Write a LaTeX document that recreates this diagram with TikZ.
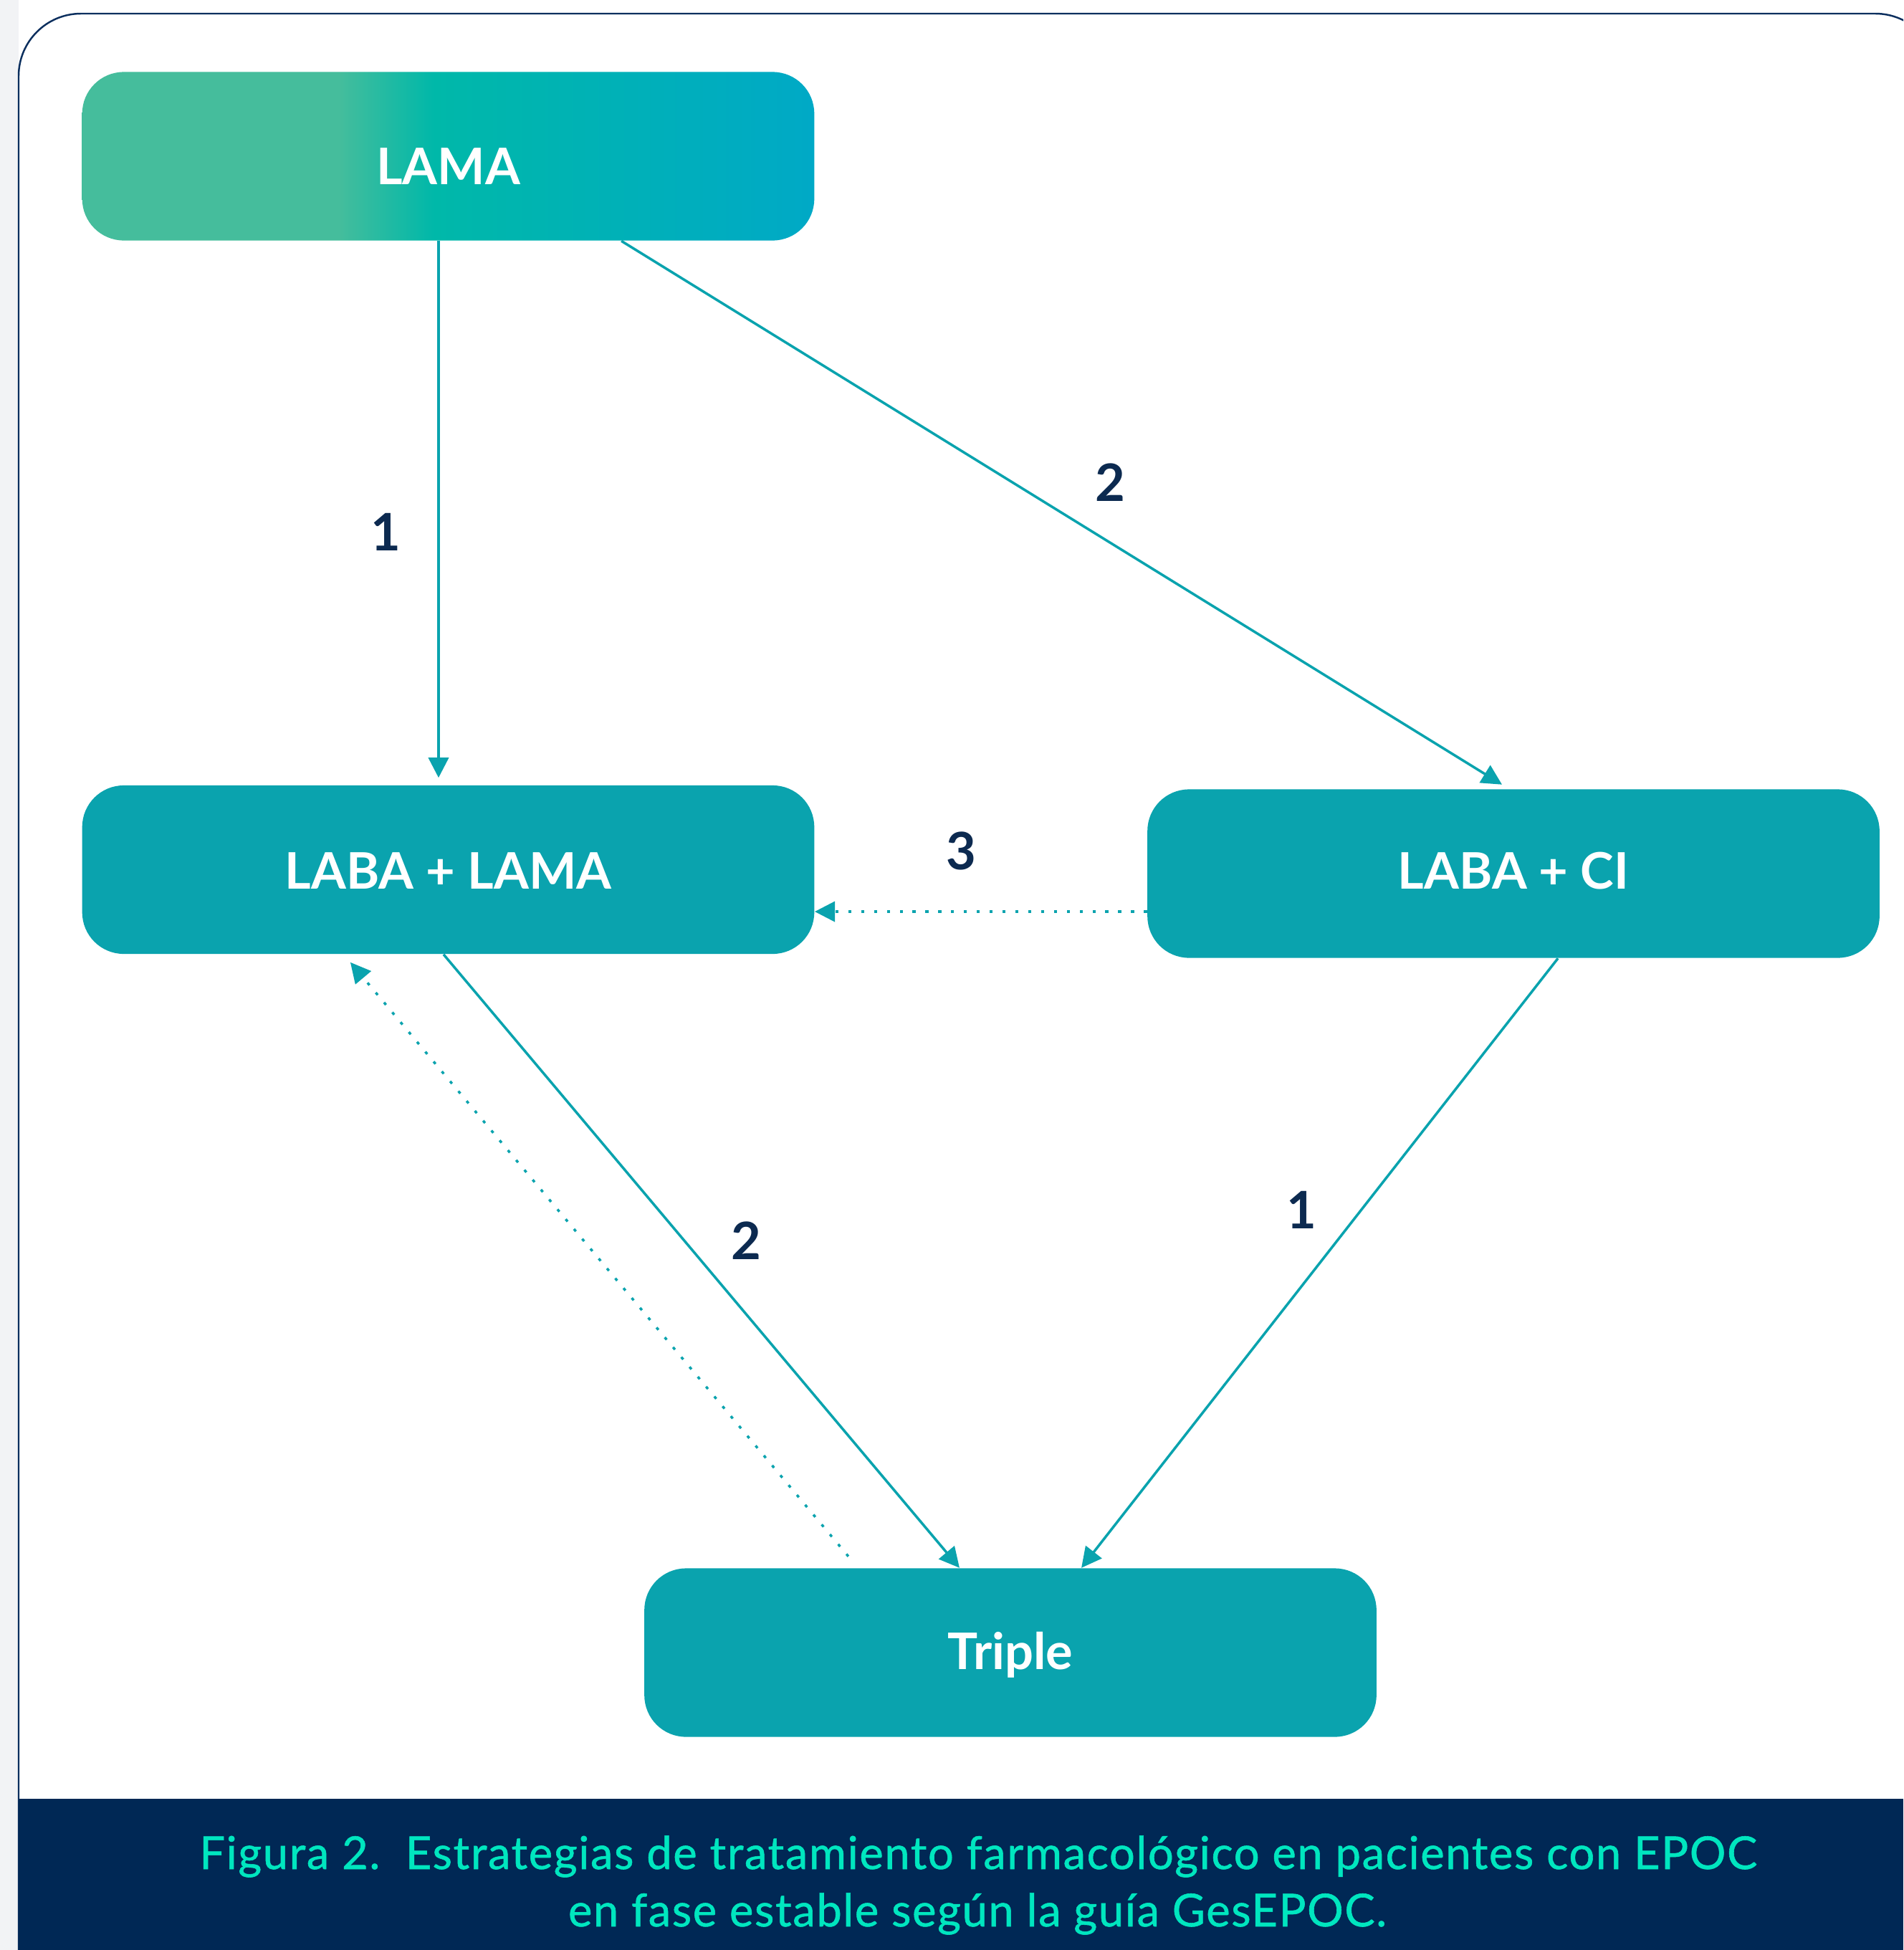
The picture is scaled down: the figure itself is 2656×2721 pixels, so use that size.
\documentclass[tikz,border=0pt]{standalone}
\usepackage{fontspec}
\setmainfont{Lato}
\usetikzlibrary{arrows.meta,calc}

\definecolor{boxteal}{HTML}{0AA3AE}
\definecolor{linkteal}{HTML}{0AA3AE}
\definecolor{numnavy}{HTML}{0C2A50}
\definecolor{framenavy}{HTML}{0B2F5E}
\definecolor{bandnavy}{HTML}{002855}
\definecolor{mint}{HTML}{00E6BF}
\definecolor{lamaA}{HTML}{45BD9C}
\definecolor{lamaB}{HTML}{00B8A9}
\definecolor{lamaC}{HTML}{00A9C6}
\definecolor{sidegrey}{HTML}{F2F3F5}

% left-to-right gradient of the first box (stops between 25bp and 75bp span the box)
\pgfdeclarehorizontalshading{lamashade}{100bp}{%
  color(0bp)=(lamaA); color(25bp)=(lamaA); color(42.5bp)=(lamaA);
  color(49bp)=(lamaB); color(75bp)=(lamaC); color(100bp)=(lamaC)}

\begin{document}
\begin{tikzpicture}[x=0.01cm,y=-0.01cm,
  stepbox/.style={rounded corners=0.58cm, minimum width=10.21cm,
    minimum height=2.35cm, inner sep=0pt, fill=boxteal, text=white,
    text height=0.5cm, text depth=0pt,
    font=\fontsize{20}{24}\selectfont\bfseries},
  link/.style={draw=linkteal, line width=1pt,
    -{Triangle[length=8pt,width=8pt]}},
  dotlink/.style={link, dash pattern=on 1.2pt off 3.9pt},
  num/.style={text=numnavy, inner sep=0pt,
    font=\fontsize{20.5}{24}\selectfont\bfseries},
  captxt/.style={text=mint, anchor=base, inner sep=0pt,
    font=\fontsize{18}{20}\selectfont\addfontfeature{FakeBold=0.9,LetterSpace=2.5}}]

\useasboundingbox (0,0) rectangle (2656,2721);
\clip (0,0) rectangle (2656,2721);

% page background and side strip
\fill[white] (0,0) rectangle (2656,2721);
\fill[sidegrey] (0,0) rectangle (26,2721);

% outer frame
\draw[framenavy, line width=0.7pt, fill=white, rounded corners=0.87cm]
  (26,2800) -- (26,19) -- (2704,19) -- (2704,2800);

% caption band
\fill[bandnavy] (26,2510) rectangle (2656,2721);
\node[captxt] (cap1) at (1365,2608)
  {Figura 2.\ \ Estrategias de tratamiento farmacológico en pacientes con EPOC};
\node[captxt] (cap2) at (1364,2688)
  {en fase estable según la guía GesEPOC.};

% treatment boxes
\node[stepbox, fill=none, shade, shading=lamashade, text height=0.78cm]
  (lama) at (625.5,218) {LAMA};
\node[stepbox, text height=0.54cm] (labalama) at (625.5,1213.5) {LABA + LAMA};
\node[stepbox, text height=0.42cm] (labaci) at (2112,1219) {LABA + CI};
\node[stepbox, text height=0.47cm] (triple) at (1410,2306) {Triple};

% connectors
\draw[link] ([xshift=-0.135cm]lama.south)
  -- ([xshift=-0.135cm,yshift=0.1cm]labalama.north);
\draw[link] ([xshift=2.415cm]lama.south)
  -- ([xshift=-0.16cm,yshift=0.06cm]labaci.north);
\draw[dotlink] ([yshift=-0.53cm]labaci.west)
  -- ([yshift=-0.53cm]labaci.west -| labalama.east);
\draw[link] ([xshift=-0.065cm]labalama.south)
  -- ([xshift=-0.71cm]triple.north);
\draw[link] ([xshift=0.62cm]labaci.south)
  -- ([xshift=0.99cm]triple.north);
\draw[dotlink] ([xshift=-2.26cm,yshift=0.16cm]triple.north)
  -- ([xshift=-1.365cm,yshift=-0.11cm]labalama.south);

% step numbers
\node[num] (n1a) at (538,742) {1};
\node[num] (n2a) at (1549,673) {2};
\node[num] (n3) at (1341,1187) {3};
\node[num] (n2b) at (1041,1731) {2};
\node[num] (n1b) at (1816,1688) {1};

\end{tikzpicture}
\end{document}
